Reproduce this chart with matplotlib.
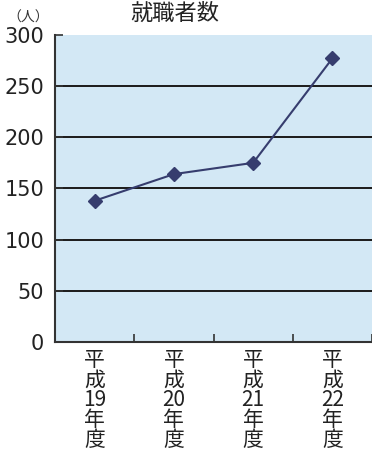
import matplotlib
matplotlib.use("Agg")
import matplotlib.pyplot as plt
import numpy as np

plt.rcParams['font.family'] = ['DejaVu Sans', 'Noto Sans CJK JP']

years = ['平\n成\n19\n年\n度', '平\n成\n20\n年\n度', '平\n成\n21\n年\n度', '平\n成\n22\n年\n度']
workers = [138, 164, 175, 277]
yticks = [0, 50, 100, 150, 200, 250, 300]

fig = plt.figure(figsize=(3.72, 4.58), dpi=100)
ax = fig.add_axes([0.148, 0.253, 0.852, 0.671])
ax.set_facecolor('#d3e8f5')

x = np.arange(len(workers))
for y in yticks[1:-1]:
    ax.axhline(y, color='#1a1a1a', lw=1.4, zorder=1)
ax.plot(x, workers, color='#363d6e', lw=1.5, marker='D', ms=7, zorder=3)

ax.set_xlim(-0.5, 3.5)
ax.set_ylim(0, 300)
ax.set_yticks(yticks)
ax.set_yticklabels([str(v) for v in yticks], fontsize=15, color='#222222')
ax.tick_params(axis='y', length=6, direction='in', pad=8, width=1.2, color='#333333')

ax.set_xticks(np.arange(-0.5, 4, 1))
ax.set_xticklabels([])
ax.tick_params(axis='x', length=6, direction='in', width=1.2, color='#333333')
for i, lab in enumerate(years):
    ax.text(i, -7, lab, ha='center', va='top', fontsize=15, linespacing=0.88,
            color='#222222', family=['Noto Sans CJK JP', 'DejaVu Sans'])

for s in ['top', 'right']:
    ax.spines[s].set_visible(False)
for s in ['left', 'bottom']:
    ax.spines[s].set_color('#333333')
    ax.spines[s].set_linewidth(1.5)

fig.text(0.47, 0.972, '就職者数', ha='center', va='center', fontsize=16, color='#222222',
         family=['Noto Sans CJK JP', 'DejaVu Sans'])
fig.text(0.075, 0.962, '（人）', ha='center', va='center', fontsize=10, color='#333333',
         family=['Noto Sans CJK JP', 'DejaVu Sans'])

fig.savefig('out.png', dpi=100)
